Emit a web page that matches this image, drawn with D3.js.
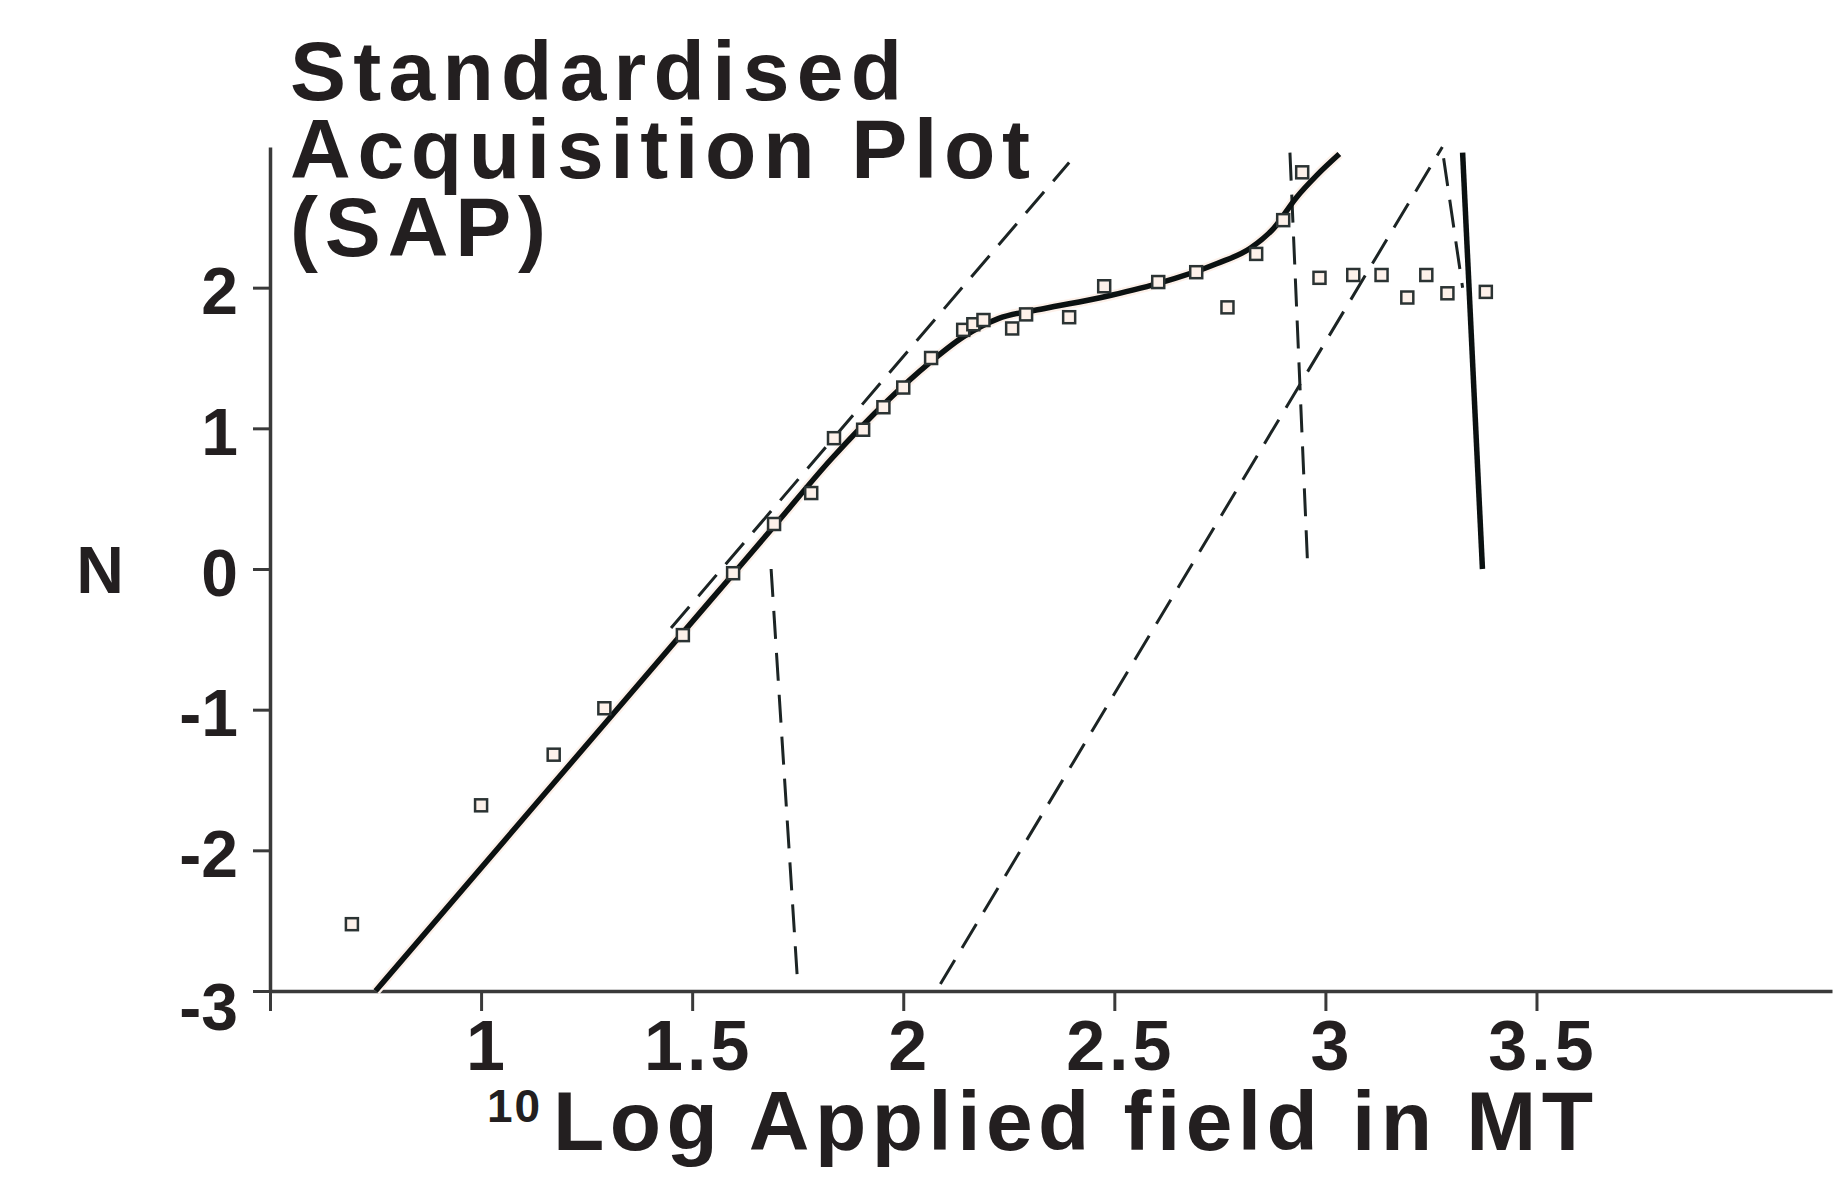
<!DOCTYPE html>
<html>
<head>
<meta charset="utf-8">
<script src="https://cdn.jsdelivr.net/npm/d3@7"></script>
<style>
  body { margin: 0; background: #fff; }
  svg { display: block; font-family: "Liberation Sans", Arial, sans-serif; font-weight: bold; }
</style>
</head>
<body>
<div id="chart"></div>
<script>
// measured points (10log field, standardised N)
var fieldLog = [0.694, 1.0, 1.172, 1.292, 1.478, 1.597, 1.694, 1.782, 1.836, 1.905, 1.953, 2.0,
    2.066, 2.142, 2.166, 2.19, 2.258, 2.291, 2.393, 2.476, 2.604, 2.694, 2.768, 2.836,
    2.9, 2.945, 2.986, 3.066, 3.133, 3.194, 3.239, 3.289, 3.38];
var normScore = [-2.525, -1.68, -1.32, -0.99, -0.47, -0.03, 0.32, 0.54, 0.93, 0.99, 1.15, 1.29,
    1.50, 1.70, 1.74, 1.77, 1.71, 1.81, 1.79, 2.01, 2.04, 2.11, 1.86, 2.24,
    2.48, 2.82, 2.07, 2.09, 2.09, 1.93, 2.09, 1.96, 1.97];

// fitted curve
var fitX = [0.75, 1.15, 1.543, 1.694, 1.829, 1.964, 2.06, 2.142, 2.225, 2.332, 2.469, 2.604,
    2.742, 2.822, 2.877, 2.931, 2.98, 3.033];
var fitY = [-3.0, -1.6, -0.225, 0.304, 0.78, 1.20, 1.46, 1.65, 1.78, 1.85, 1.93, 2.03,
    2.17, 2.28, 2.42, 2.64, 2.80, 2.95];

// component lines (start / end)
var dashA = [[1.45, -0.42], [2.393, 2.89]];
var dashB = [[1.687, 0.0], [1.75, -2.95]];
var dashC = [[2.088, -2.95], [3.277, 3.0]];
var dashD = [[2.916, 2.96], [2.958, 0.02]];
var dashE = [[3.28, 2.92], [3.325, 2.0]];
var solidF = [[3.325, 2.96], [3.372, 0.0]];

var xTicks = [0.5, 1, 1.5, 2, 2.5, 3, 3.5];
var xTickLabels = ["", "1", "1.5", "2", "2.5", "3", "3.5"];
var yTicks = [-3, -2, -1, 0, 1, 2];

var svgWidth = 1839;
var svgHeight = 1182;
var ink = "#231f20";

var svg = d3.select("#chart")
    .append("svg")
    .attr("width", svgWidth)
    .attr("height", svgHeight);

var x = d3.scaleLinear().domain([0.5, 4.2]).range([270, 1832]);
var y = d3.scaleLinear().domain([-3, 3]).range([991, 147]);

// axes
var xAxis = svg.append("g")
    .attr("transform", "translate(0," + y(-3) + ")")
    .call(d3.axisBottom(x)
        .tickValues(xTicks)
        .tickSize(20)
        .tickSizeOuter(0)
        .tickFormat(function (d, i) { return xTickLabels[i]; }));

var yAxis = svg.append("g")
    .attr("transform", "translate(" + x(0.5) + ",0)")
    .call(d3.axisLeft(y)
        .tickValues(yTicks)
        .tickSize(17)
        .tickSizeOuter(0)
        .tickFormat(function (d) { return String(d); }));

svg.selectAll(".domain").attr("stroke", "#3a3a3a").attr("stroke-width", 3.5);
svg.selectAll(".tick line").attr("stroke", "#3a3a3a").attr("stroke-width", 3);

xAxis.selectAll(".tick text")
    .attr("y", 79)
    .attr("dy", 0)
    .attr("dx", 6)
    .attr("fill", ink)
    .style("font-size", "70px")
    .style("letter-spacing", "4px");

yAxis.selectAll(".tick text")
    .attr("x", -32)
    .attr("y", function (d) { return d === -3 ? 38 : 26; })
    .attr("dy", 0)
    .attr("fill", ink)
    .style("font-size", "66px");

// axis titles
svg.append("text")
    .attr("x", 100)
    .attr("y", 593)
    .attr("text-anchor", "middle")
    .attr("fill", ink)
    .style("font-size", "66px")
    .text("N");

svg.append("text")
    .attr("x", 487)
    .attr("y", 1122)
    .attr("fill", ink)
    .style("font-size", "46px")
    .style("letter-spacing", "2px")
    .text("10");

svg.append("text")
    .attr("x", 553)
    .attr("y", 1150)
    .attr("fill", ink)
    .attr("textLength", 1040)
    .attr("lengthAdjust", "spacing")
    .style("font-size", "84px")
    .text("Log Applied field in MT");

// chart title
var titleLines = [["Standardised", 100, 612], ["Acquisition Plot", 178, 740], ["(SAP)", 256, 256]];
svg.selectAll(".title-line")
    .data(titleLines)
    .enter()
    .append("text")
    .attr("class", "title-line")
    .attr("x", 290)
    .attr("y", function (d) { return d[1]; })
    .attr("textLength", function (d) { return d[2]; })
    .attr("lengthAdjust", "spacing")
    .attr("fill", ink)
    .style("font-size", "84px")
    .text(function (d) { return d[0]; });

// lines
var line = d3.line().x(function (d) { return x(d[0]); }).y(function (d) { return y(d[1]); });
var fitLine = d3.line()
    .x(function (d) { return x(d[0]); })
    .y(function (d) { return y(d[1]); })
    .curve(d3.curveMonotoneX);
var fitData = fitX.map(function (v, i) { return [v, fitY[i]]; });

var dashed = [dashA, dashB, dashC, dashD, dashE];

// faint halo under the solid lines, like the scanned original
svg.append("path")
    .datum(fitData)
    .attr("d", fitLine)
    .attr("fill", "none")
    .attr("stroke", "#fdf1ea")
    .attr("stroke-width", 10);

svg.selectAll(".dash")
    .data(dashed)
    .enter()
    .append("path")
    .attr("class", "dash")
    .attr("d", line)
    .attr("fill", "none")
    .attr("stroke", "#1c2424")
    .attr("stroke-width", 3)
    .attr("stroke-dasharray", "28,14");

svg.append("path")
    .datum(fitData)
    .attr("d", fitLine)
    .attr("fill", "none")
    .attr("stroke", "#0b1111")
    .attr("stroke-width", 5.5);

svg.append("path")
    .datum(solidF)
    .attr("d", line)
    .attr("fill", "none")
    .attr("stroke", "#0b1111")
    .attr("stroke-width", 5.5);

// data squares
svg.selectAll(".pt")
    .data(fieldLog)
    .enter()
    .append("rect")
    .attr("class", "pt")
    .attr("x", function (d) { return x(d) - 6; })
    .attr("y", function (d, i) { return y(normScore[i]) - 6; })
    .attr("width", 12)
    .attr("height", 12)
    .attr("fill", "#fdf1ea")
    .attr("stroke", "#2b3333")
    .attr("stroke-width", 2.5);
</script>
</body>
</html>
